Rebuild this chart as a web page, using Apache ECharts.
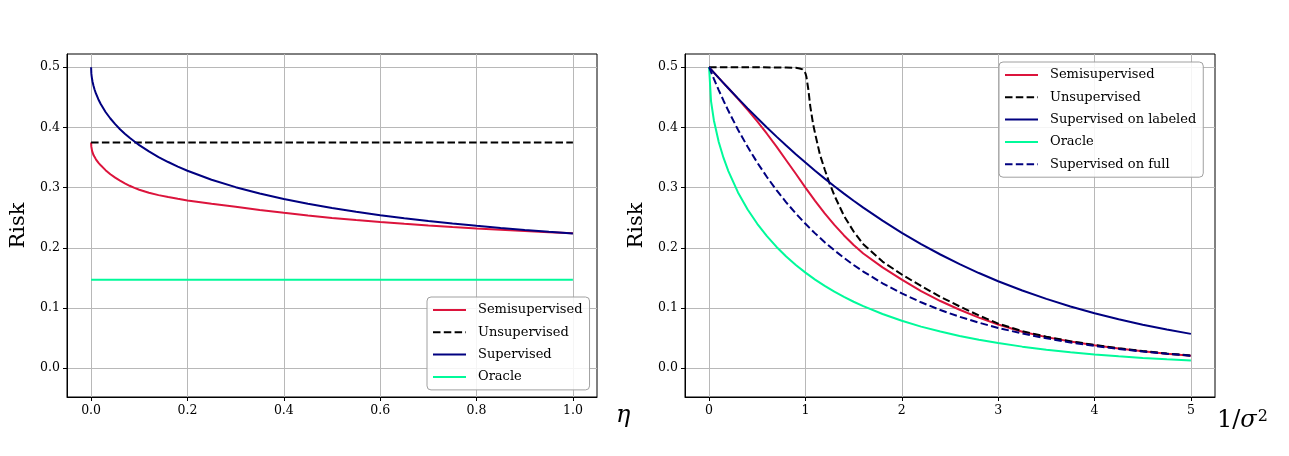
<!DOCTYPE html>
<html>
<head>
<meta charset="utf-8">
<script src="https://cdn.jsdelivr.net/npm/echarts@6/dist/echarts.min.js"></script>
<style>html,body{margin:0;padding:0;background:#fff}#c{width:1289px;height:456px}</style>
</head>
<body>
<div id="c"></div>
<script>
// ---- Left panel (x = eta) ----
const etaX = [0, 0.0005, 0.001, 0.002, 0.003, 0.005, 0.007, 0.01, 0.015, 0.02, 0.03, 0.04, 0.05, 0.06, 0.07, 0.08, 0.09, 0.1, 0.12, 0.14, 0.16, 0.18, 0.2, 0.25, 0.3, 0.35, 0.4, 0.45, 0.5, 0.55, 0.6, 0.65, 0.7, 0.75, 0.8, 0.85, 0.9, 0.95, 1.0];
const leftSemi = [0.375, 0.368, 0.365, 0.361, 0.358, 0.354, 0.351, 0.347, 0.3415, 0.337, 0.329, 0.3222, 0.3165, 0.3115, 0.307, 0.303, 0.2995, 0.2965, 0.2915, 0.2875, 0.2842, 0.2813, 0.2787, 0.273, 0.268, 0.2628, 0.258, 0.2535, 0.2495, 0.246, 0.2428, 0.2398, 0.237, 0.2344, 0.232, 0.2298, 0.2277, 0.2258, 0.224];
const leftSup  = [0.5, 0.4902, 0.4861, 0.4804, 0.476, 0.4691, 0.4635, 0.4564, 0.4469, 0.4388, 0.4256, 0.4148, 0.4054, 0.397, 0.3896, 0.3827, 0.3765, 0.3706, 0.3601, 0.3508, 0.3425, 0.3349, 0.328, 0.3131, 0.3007, 0.2901, 0.2811, 0.2731, 0.2661, 0.2598, 0.2542, 0.2491, 0.2446, 0.2404, 0.2365, 0.233, 0.2297, 0.2267, 0.2239];
const leftUnsupX = [0, 1.0];
const leftUnsup  = [0.375, 0.375];
const leftOracleX = [0, 1.0];
const leftOracle  = [0.147, 0.147];

// ---- Right panel (x = 1/sigma^2) ----
const sX = [0, 0.02, 0.05, 0.1, 0.15, 0.2, 0.3, 0.4, 0.5, 0.6, 0.7, 0.8, 0.9, 1.0, 1.1, 1.2, 1.3, 1.4, 1.5, 1.6, 1.8, 2.0, 2.2, 2.4, 2.6, 2.8, 3.0, 3.25, 3.5, 3.75, 4.0, 4.25, 4.5, 4.75, 5.0];
const rightSemi    = [0.5, 0.4964, 0.4911, 0.4823, 0.4737, 0.465, 0.4475, 0.429, 0.41, 0.3895, 0.368, 0.3455, 0.323, 0.3, 0.278, 0.257, 0.238, 0.2205, 0.2045, 0.1905, 0.1675, 0.147, 0.128, 0.1115, 0.097, 0.084, 0.0725, 0.0605, 0.0515, 0.0443, 0.038, 0.0325, 0.028, 0.024, 0.0205];
const rightSupLab  = [0.5, 0.4964, 0.4911, 0.4823, 0.4737, 0.4651, 0.4482, 0.4317, 0.4156, 0.3999, 0.3847, 0.3699, 0.3555, 0.3416, 0.328, 0.3149, 0.3023, 0.29, 0.2782, 0.2667, 0.245, 0.2249, 0.2061, 0.1888, 0.1728, 0.158, 0.1444, 0.1289, 0.115, 0.1025, 0.0912, 0.0811, 0.0721, 0.0641, 0.0569];
const rightOracle  = [0.5, 0.4438, 0.4115, 0.3759, 0.3493, 0.3274, 0.2919, 0.2636, 0.2398, 0.2193, 0.2014, 0.1855, 0.1714, 0.1587, 0.1471, 0.1367, 0.1271, 0.1184, 0.1103, 0.103, 0.0899, 0.0786, 0.069, 0.0607, 0.0534, 0.0471, 0.0416, 0.0357, 0.0307, 0.0264, 0.0228, 0.0196, 0.0169, 0.0147, 0.0127];
const rightSupFull = [0.5, 0.4921, 0.4805, 0.462, 0.4444, 0.4276, 0.3962, 0.3677, 0.3415, 0.3176, 0.2957, 0.2755, 0.2569, 0.2398, 0.2239, 0.2092, 0.1957, 0.1831, 0.1714, 0.1605, 0.141, 0.1241, 0.1094, 0.0965, 0.0853, 0.0755, 0.0668, 0.0575, 0.0495, 0.0427, 0.0368, 0.0318, 0.0275, 0.0238, 0.0206];
const rightUnsupX = [0, 0.5, 0.8, 0.9, 0.94, 0.97, 0.99, 1.0, 1.01, 1.03, 1.05, 1.08, 1.1, 1.15, 1.2, 1.25, 1.3, 1.4, 1.5, 1.6, 1.8, 2.0, 2.2, 2.4, 2.6, 2.8, 3.0, 3.25, 3.5, 3.75, 4.0, 4.25, 4.5, 4.75, 5.0];
const rightUnsup  = [0.5, 0.5, 0.4995, 0.499, 0.498, 0.4965, 0.494, 0.49, 0.484, 0.463, 0.435, 0.405, 0.39, 0.355, 0.33, 0.307, 0.287, 0.253, 0.227, 0.206, 0.177, 0.1555, 0.1365, 0.1185, 0.1025, 0.0875, 0.074, 0.0615, 0.0522, 0.0448, 0.0385, 0.033, 0.0283, 0.0243, 0.021];

// ---- Tick labels ----
const leftXTicks = [0, 0.2, 0.4, 0.6, 0.8, 1.0];
const rightXTicks = [0, 1, 2, 3, 4, 5];
const yTicks = [0, 0.1, 0.2, 0.3, 0.4, 0.5];

const FONT = 'DejaVu Serif';
const C_SEMI = '#DC143C', C_SUP = '#000080', C_OR = '#00FA9A', C_UN = '#000000';
const DASH = [7.5, 3.3];

function pairs(xs, ys){ return xs.map((x,i)=>[x, ys[i]]); }

function xAxis(gi, min, max, ticks, fmt, name, gap, nameStyle){
  return {
    type:'value', gridIndex: gi, min, max,
    axisLine:{show:true, onZero:false, lineStyle:{color:'#000', width:1}},
    axisTick:{show:true, inside:false, length:4, customValues: ticks, lineStyle:{color:'#000', width:1}},
    axisLabel:{customValues: ticks, formatter: fmt, color:'#000', fontFamily:FONT, fontSize:12.5, margin:7},
    splitLine:{show:true, lineStyle:{color:'#b8b8b8', width:1}},
    name, nameLocation:'end', nameGap: gap,
    nameTextStyle: nameStyle
  };
}
function yAxis(gi){
  return {
    type:'value', gridIndex: gi, min:-0.048, max:0.522,
    axisLine:{show:true, onZero:false, lineStyle:{color:'#000', width:1}},
    axisTick:{show:true, length:4, customValues: yTicks, lineStyle:{color:'#000', width:1}},
    axisLabel:{customValues: yTicks, formatter: v=>v.toFixed(1), color:'#000', fontFamily:FONT, fontSize:12.5, margin:7},
    splitLine:{show:true, lineStyle:{color:'#b8b8b8', width:1}},
    name:'Risk', nameLocation:'middle', nameGap:38,
    nameTextStyle:{fontFamily:FONT, fontSize:21, color:'#000'}
  };
}
function line(name, xi, data, color, dashed){
  return {
    type:'line', name, xAxisIndex:xi, yAxisIndex:xi, data,
    showSymbol:false, symbol:'none', smooth:false, animation:false,
    lineStyle:{color, width:2, type: dashed ? DASH : 'solid'},
    itemStyle:{color}
  };
}

const legendBase = {
  orient:'vertical', itemWidth:33, itemHeight:14, itemGap:9.3,
  backgroundColor:'rgba(255,255,255,0.85)', borderColor:'#a0a0a0', borderWidth:1, borderRadius:4,
  padding:[6.5,7,6.5,5],
  itemStyle:{opacity:0},
  textStyle:{fontFamily:FONT, fontSize:13, color:'#000', padding:[0,0,0,7]},
  selectedMode:false
};

const option = {
  animation:false,
  backgroundColor:'#fff',
  grid:[
    {left:67, top:54, width:530, height:343, show:true, borderColor:'#000', borderWidth:1, backgroundColor:'transparent'},
    {left:685, top:54, width:530, height:343, show:true, borderColor:'#000', borderWidth:1, backgroundColor:'transparent'}
  ],
  xAxis:[
    xAxis(0, -0.05, 1.05, leftXTicks, v=>v.toFixed(1), 'η', 19,
      {fontFamily:FONT, fontStyle:'italic', fontSize:24, color:'#000', verticalAlign:'top', padding:[7,0,0,0]}),
    xAxis(1, -0.25, 5.25, rightXTicks, v=>String(v), '{n|1/}{i|σ}{s|2}', 2,
      {fontFamily:FONT, fontSize:23, color:'#000', verticalAlign:'top', padding:[12,0,0,0],
       rich:{
         n:{fontFamily:FONT, fontSize:24, color:'#000', verticalAlign:'bottom'},
         i:{fontFamily:FONT, fontSize:24, fontStyle:'italic', color:'#000', verticalAlign:'bottom'},
         s:{fontFamily:FONT, fontSize:16, color:'#000', verticalAlign:'top', padding:[0,0,0,1]}
       }})
  ],
  yAxis:[ yAxis(0), yAxis(1) ],
  legend:[
    Object.assign({}, legendBase, {left:427, top:297, data:['Semisupervised','Unsupervised','Supervised','Oracle']}),
    Object.assign({}, legendBase, {left:999, top:62, data:['Semisupervised','Unsupervised','Supervised on labeled','Oracle','Supervised on full']})
  ],
  series:[
    line('Semisupervised', 0, pairs(etaX, leftSemi), C_SEMI, false),
    line('Unsupervised', 0, pairs(leftUnsupX, leftUnsup), C_UN, true),
    line('Supervised', 0, pairs(etaX, leftSup), C_SUP, false),
    line('Oracle', 0, pairs(leftOracleX, leftOracle), C_OR, false),
    line('Semisupervised', 1, pairs(sX, rightSemi), C_SEMI, false),
    line('Unsupervised', 1, pairs(rightUnsupX, rightUnsup), C_UN, true),
    line('Supervised on labeled', 1, pairs(sX, rightSupLab), C_SUP, false),
    line('Oracle', 1, pairs(sX, rightOracle), C_OR, false),
    line('Supervised on full', 1, pairs(sX, rightSupFull), C_SUP, true)
  ]
};
const chart = echarts.init(document.getElementById('c'), null, {renderer:'canvas'});
chart.setOption(option);
</script>
</body>
</html>
